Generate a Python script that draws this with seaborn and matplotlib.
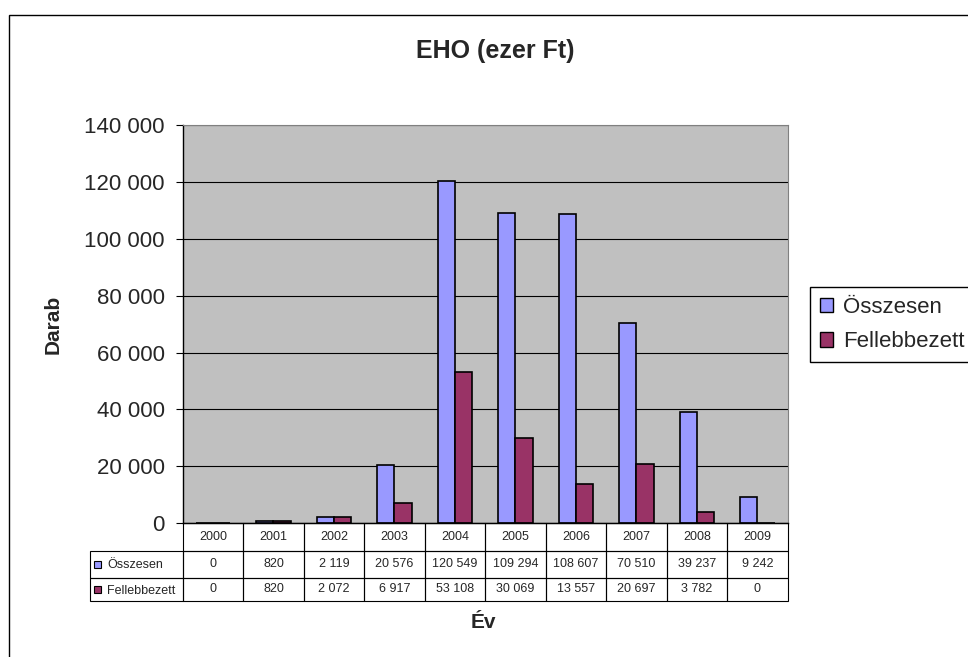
import matplotlib
matplotlib.use("Agg")
import matplotlib.pyplot as plt
from matplotlib.patches import Rectangle, Patch
from matplotlib.ticker import FuncFormatter, MultipleLocator
import seaborn as sns
import pandas as pd

# ---- data ----
years = ["2000", "2001", "2002", "2003", "2004", "2005", "2006", "2007", "2008", "2009"]
series_names = ["Összesen", "Fellebbezett"]
osszesen = [0, 820, 2119, 20576, 120549, 109294, 108607, 70510, 39237, 9242]
fellebbezett = [0, 820, 2072, 6917, 53108, 30069, 13557, 20697, 3782, 0]
colors = ["#9999FF", "#993366"]

title = "EHO (ezer Ft)"
ylabel = "Darab"
xlabel = "Év"

df = pd.DataFrame({
    "year": years * 2,
    "series": [series_names[0]] * len(years) + [series_names[1]] * len(years),
    "value": osszesen + fellebbezett,
})

sns.set_style("white")
plt.rcParams["font.family"] = ["Liberation Sans", "DejaVu Sans"]

W, H = 968, 657
fig = plt.figure(figsize=(W / 100, H / 100), dpi=100)

def fx(px):
    return px / W

def fy(py):
    return 1 - py / H

# plot area
L, R, T, B = 182.7, 787.7, 125.3, 523.0
ax = fig.add_axes([fx(L), fy(B), fx(R - L), (B - T) / H])
ax.set_facecolor("#C0C0C0")

sns.barplot(data=df, x="year", y="value", hue="series", palette=colors,
            hue_order=series_names, order=years, width=0.571, saturation=1,
            edgecolor="black", linewidth=1.2, ax=ax, legend=False)

ax.set_ylim(0, 140000)
ax.set_xlim(-0.5, len(years) - 0.5)
ax.yaxis.set_major_locator(MultipleLocator(20000))
ax.yaxis.set_major_formatter(FuncFormatter(lambda v, p: f"{int(v):,}".replace(",", " ")))
ax.yaxis.grid(True, color="black", linewidth=0.8)
ax.xaxis.grid(False)
ax.set_axisbelow(True)
ax.tick_params(axis="y", which="major", length=5, width=0.8, color="black",
               direction="out", pad=8, labelsize=16, left=True)
ax.tick_params(axis="x", length=0, labelbottom=False)
ax.set_xlabel("")
ax.set_ylabel(ylabel, fontsize=15, fontweight="bold")
ax.yaxis.set_label_coords((63.0 - L) / (R - L), 0.5)
for s in ["top", "right"]:
    ax.spines[s].set_color("#808080")
    ax.spines[s].set_linewidth(0.8)
for s in ["left", "bottom"]:
    ax.spines[s].set_color("black")
    ax.spines[s].set_linewidth(1.0)

# ---- data table below the plot ----
TL, TB = 90.0, 601.0
tax = fig.add_axes([fx(TL), fy(TB), fx(R - TL), (TB - B) / H])
tax.set_xlim(TL, R)
tax.set_ylim(TB, B)
tax.axis("off")
colw = (R - L) / len(years)
row_edges = [B, 550.7, 578.0, TB]
lw = 0.8
# header row
for i, yr in enumerate(years):
    x0 = L + i * colw
    tax.add_patch(Rectangle((x0, row_edges[0]), colw, row_edges[1] - row_edges[0],
                            fill=False, ec="black", lw=lw, clip_on=False))
    tax.text(x0 + colw / 2, (row_edges[0] + row_edges[1]) / 2, yr,
             ha="center", va="center", fontsize=9)
# data rows
for r, (name, vals, col) in enumerate(zip(series_names, [osszesen, fellebbezett], colors)):
    y0, y1 = row_edges[r + 1], row_edges[r + 2]
    tax.add_patch(Rectangle((TL, y0), L - TL, y1 - y0, fill=False, ec="black",
                            lw=lw, clip_on=False))
    tax.add_patch(Rectangle((TL + 3.5, (y0 + y1) / 2 - 3.5), 7, 7, fc=col,
                            ec="black", lw=0.8, clip_on=False))
    tax.text(TL + 17, (y0 + y1) / 2 + 1, name, ha="left", va="center", fontsize=9)
    for i, v in enumerate(vals):
        x0 = L + i * colw
        tax.add_patch(Rectangle((x0, y0), colw, y1 - y0, fill=False, ec="black",
                                lw=lw, clip_on=False))
        tax.text(x0 + colw / 2, (y0 + y1) / 2, f"{v:,}".replace(",", " "),
                 ha="center", va="center", fontsize=9)

# ---- texts ----
fig.text(fx(495.7), fy(51), title, ha="center", va="center", fontsize=18,
         fontweight="bold")
fig.text(fx(483), fy(622), xlabel, ha="center", va="center", fontsize=15,
         fontweight="bold")

# ---- legend ----
handles = [Patch(facecolor=c, edgecolor="black", linewidth=1.0) for c in colors]
fig.legend(handles, series_names, loc="upper left",
           bbox_to_anchor=(fx(810), fy(287)), bbox_transform=fig.transFigure,
           fontsize=16, frameon=True, fancybox=False, edgecolor="black",
           framealpha=1, borderaxespad=0, borderpad=0.45, labelspacing=0.6,
           handlelength=0.6, handleheight=0.6, handletextpad=0.45)
leg = fig.legends[-1]
leg.get_frame().set_linewidth(1.0)

# ---- outer chart frame ----
fig.patches.append(Rectangle((fx(9.3), -0.05), 1.2, fy(15) + 0.05,
                             transform=fig.transFigure, fill=False,
                             ec="black", lw=1.0, figure=fig))

fig.savefig("out.png", dpi=100, facecolor="white")
